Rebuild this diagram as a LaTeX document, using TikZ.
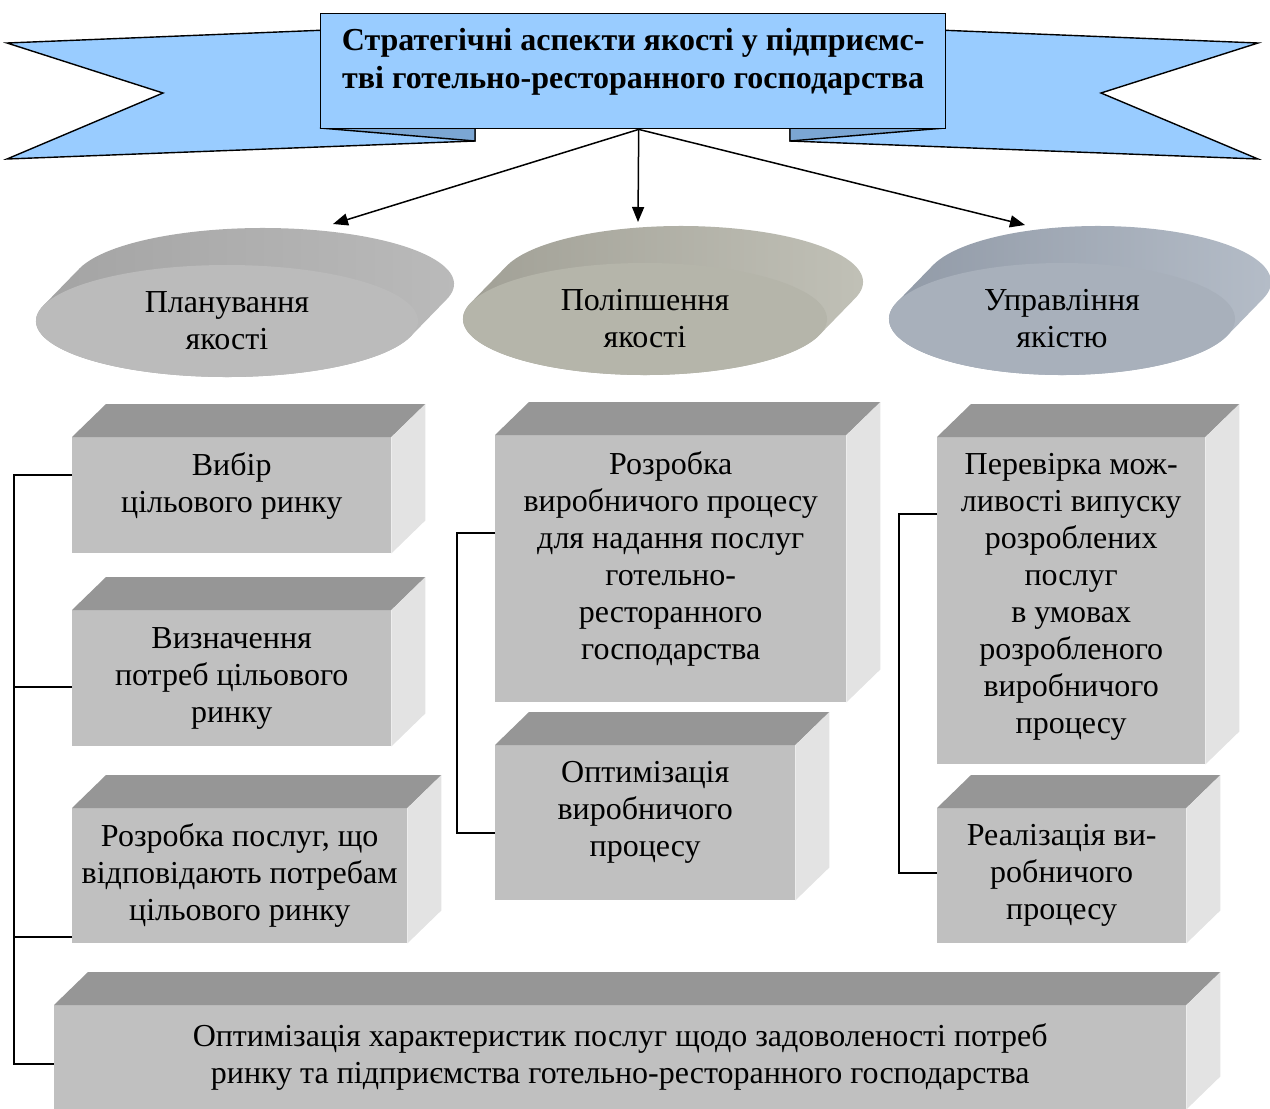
\documentclass[tikz,border=0pt]{standalone}
\usepackage{fontspec}
\setmainfont{Liberation Serif}
\usetikzlibrary{arrows.meta,calc,shapes.geometric}
\definecolor{ribbon}{HTML}{99CCFF}
\definecolor{ribfold}{HTML}{7BA6D3}
\definecolor{cubefront}{HTML}{C0C0C0}
\definecolor{cubetop}{HTML}{969696}
\definecolor{cubeside}{HTML}{E3E3E3}
\definecolor{plnface}{HTML}{BBBBBB}
\definecolor{plnside}{HTML}{A2A2A2}
\definecolor{plnmid}{HTML}{999999}
\definecolor{plnlite}{HTML}{BBBBBB}
\definecolor{impface}{HTML}{B5B5AA}
\definecolor{impside}{HTML}{9F9E94}
\definecolor{impmid}{HTML}{9A998F}
\definecolor{implite}{HTML}{C2C2B8}
\definecolor{mgtface}{HTML}{A8B0BB}
\definecolor{mgtside}{HTML}{8F98A5}
\definecolor{mgtmid}{HTML}{8A94A1}
\definecolor{mgtlite}{HTML}{B6BEC9}
\newcommand{\boxfont}{\fontsize{32bp}{37bp}\selectfont}
\newcommand{\headfont}{\bfseries\fontsize{32bp}{38bp}\selectfont}
% flat disc: name, front centre, x radius, y radius, colour prefix, text
\newcommand{\disc}[6]{%
  \coordinate (#1-f) at #2;
  \coordinate (#1-b) at ($(#1-f)+(36,37)$);
  \pgfmathsetmacro\discang{atan(#4/#3)}
  \shade[left color=#5side,middle color=#5mid,right color=#5lite]
    ($(#1-f)+(-\discang:#3bp and #4bp)$) -- ($(#1-b)+(-\discang:#3bp and #4bp)$)
    arc[start angle=-\discang,end angle=180-\discang,x radius=#3bp,y radius=#4bp]
    -- ($(#1-f)+(180-\discang:#3bp and #4bp)$)
    arc[start angle=180-\discang,end angle=360-\discang,x radius=#3bp,y radius=#4bp]
    -- cycle;
  \node[disc,fill=#5face,minimum width=2*#3bp,minimum height=2*#4bp] (#1) at (#1-f) {#6};
}
\tikzset{
  every node/.style={font=\boxfont},
  cube/.style={fill=cubefront,align=center,inner sep=0pt,anchor=north west},
  disc/.style={ellipse,inner sep=0pt,align=center},
  ribbonpart/.style={fill=ribbon,draw=black,line width=1.4bp,line join=miter},
  ar/.style={->,>={Triangle[length=15bp,width=12bp]},line width=1.5bp},
  link/.style={line width=1.5bp},
  raised/.style={text depth=#1},
}

\begin{document}
\begin{tikzpicture}[x=1bp,y=1bp]
\useasboundingbox (0,0) rectangle (1270,-1109);

% ribbon with the heading
\draw[ribbonpart] (7,-43) -- (475,-24) -- (475,-141) -- (7,-159) -- (163,-93) -- cycle;
\draw[ribbonpart] (1258,-43) -- (790,-24) -- (790,-141) -- (1258,-159) -- (1101,-93) -- cycle;
\draw[ribbonpart,fill=ribfold] (320,-128) -- (475,-127) -- (475,-141) -- cycle;
\draw[ribbonpart,fill=ribfold] (945,-128) -- (790,-127) -- (790,-141) -- cycle;
\node[ribbonpart,anchor=north west,minimum width=625bp,minimum height=115bp,
      inner sep=0pt,align=center,font=\headfont,raised=26bp] (title) at (320,-13)
  {Стратегічні аспекти якості у підприємс-\\тві готельно-ресторанного господарства};

% three aspects
\disc{plan}{(227,-321)}{191}{56}{pln}{Планування\\якості}
\disc{impr}{(645,-319)}{182}{56}{imp}{Поліпшення\\якості}
\disc{mgmt}{(1062,-319)}{173}{56}{mgt}{Управління\\якістю}

\coordinate (plantip) at (333,-224);
\coordinate (imprtip) at (638,-222);
\coordinate (mgmttip) at (1025,-225);
\draw[ar] ([xshift=5.5bp]title.south) -- (plantip);
\draw[ar] ([xshift=5.5bp]title.south) -- (imprtip);
\draw[ar] ([xshift=5.5bp]title.south) -- (mgmttip);

% blocks
\node[cube,minimum width=319bp,minimum height=116bp,raised=25bp] (b1) at (72,-437)
  {Вибір\\цільового ринку};
\node[cube,minimum width=319bp,minimum height=136bp] (b2) at (72,-610)
  {Визначення\\потреб цільового\\ринку};
\node[cube,minimum width=335bp,minimum height=135bp] (b3) at (72,-808)
  {Розробка послуг, що\\відповідають потребам\\цільового ринку};
\node[cube,minimum width=351bp,minimum height=267bp,raised=27bp] (m1) at (495,-435)
  {Розробка\\виробничого процесу\\для надання послуг\\готельно-\\ресторанного\\господарства};
\node[cube,minimum width=300bp,minimum height=155bp,raised=27bp] (m2) at (495,-745)
  {Оптимізація\\виробничого\\процесу};
\node[cube,minimum width=268bp,minimum height=327bp,raised=15bp] (r1) at (937,-437)
  {Перевірка мож-\\ливості випуску\\розроблених\\послуг\\в умовах\\розробленого\\виробничого\\процесу};
\node[cube,minimum width=249bp,minimum height=135bp] (r2) at (937,-808)
  {Реалізація ви-\\робничого\\процесу};
\node[cube,minimum width=1132bp,minimum height=104bp] (low) at (54,-1005)
  {Оптимізація характеристик послуг щодо задоволеності потреб\\ринку та підприємства готельно-ресторанного господарства};

\foreach \n in {b1,b2,b3,m1,m2,r1,r2,low} {
  \fill[cubetop] (\n.north west) -- ++(34,33) -- ([shift={(34,33)}]\n.north east) -- (\n.north east) -- cycle;
  \fill[cubeside] (\n.north east) -- ++(34,33) -- ([shift={(34,33)}]\n.south east) -- (\n.south east) -- cycle;
}

% brackets
\draw[link] ([yshift=20bp]b1.west) -- ++(-58,0) |- ([yshift=-7bp]low.west);
\draw[link] ([yshift=-9bp]b2.west) -- ++(-58,0);
\draw[link] ([yshift=-61.5bp]b3.west) -- ++(-58,0);
\draw[link] ([yshift=35.5bp]m1.west) -- ++(-38,0) |- ([yshift=-10.5bp]m2.west);
\draw[link] ([yshift=86.5bp]r1.west) -- ++(-38,0) |- ([yshift=2.5bp]r2.west);
\end{tikzpicture}
\end{document}
